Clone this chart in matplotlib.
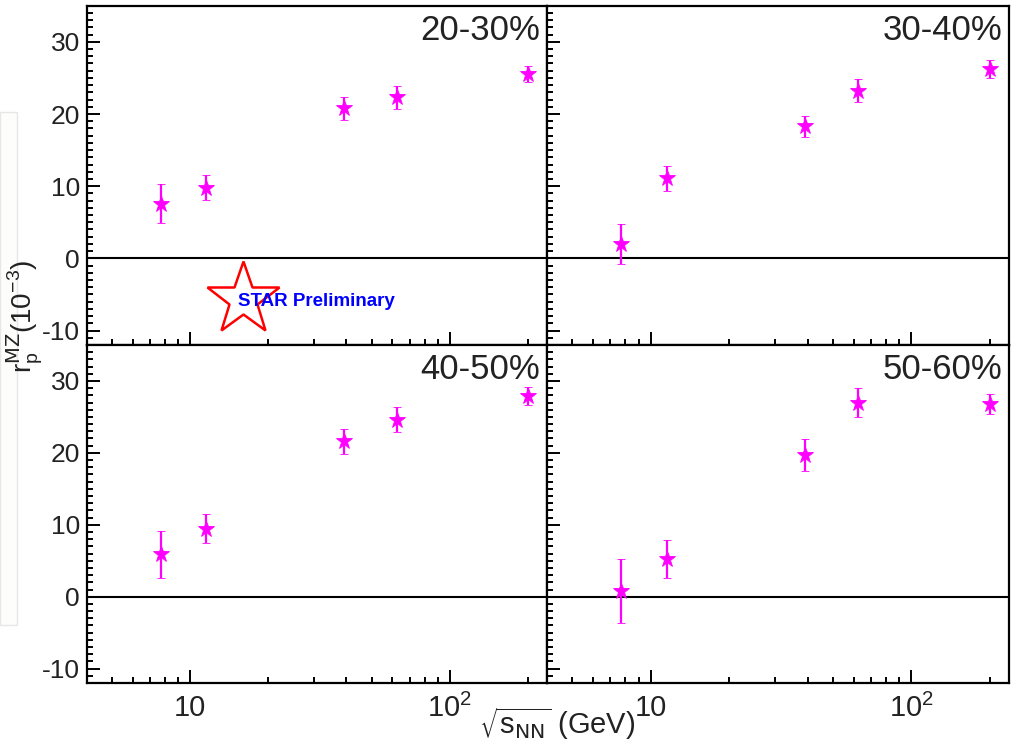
import numpy as np
import matplotlib
matplotlib.use('Agg')
from matplotlib import pyplot as plt
from matplotlib.ticker import FixedLocator, NullFormatter, MultipleLocator
from matplotlib.patches import Rectangle

plt.rcParams['font.family'] = ['Liberation Sans', 'DejaVu Sans']
plt.rcParams['mathtext.default'] = 'regular'

# beam energies (GeV)
energies = [7.7, 11.5, 39, 62.4, 200]

# values per centrality bin
centralities = ['20-30%', '30-40%', '40-50%', '50-60%']
v_2030 = [7.6, 9.8, 20.8, 22.3, 25.5]
e_2030 = [2.7, 1.75, 1.6, 1.6, 1.1]
v_3040 = [2.0, 11.1, 18.3, 23.2, 26.2]
e_3040 = [2.8, 1.75, 1.45, 1.6, 1.25]
v_4050 = [5.9, 9.45, 21.6, 24.6, 27.9]
e_4050 = [3.3, 2.0, 1.7, 1.75, 1.25]
v_5060 = [0.8, 5.3, 19.7, 27.0, 26.75]
e_5060 = [4.5, 2.65, 2.2, 2.05, 1.4]

values = [v_2030, v_3040, v_4050, v_5060]
errors = [e_2030, e_3040, e_4050, e_5060]

xticks = [10, 100]
xticklabels = ['10', '$10^{2}$']
yticks = [-10, 0, 10, 20, 30]

fig = plt.figure(figsize=(10.17, 7.44), dpi=100)

# pale box at the left edge (behind the y title)
fig.patches.append(Rectangle((0.0, 1 - 625 / 744), 17 / 1017, (625 - 112) / 744,
                             transform=fig.transFigure, facecolor='#fdfdfb',
                             edgecolor='#e6e6e6', lw=1.0, zorder=0))

left, mid, right = 0.0855, 0.5379, 0.9921
bot, midy, top = 0.0820, 0.5363, 0.9923
boxes = [
    [left, midy, mid - left, top - midy],
    [mid, midy, right - mid, top - midy],
    [left, bot, mid - left, midy - bot],
    [mid, bot, right - mid, midy - bot],
]

minor_x = [5, 6, 7, 8, 9, 20, 30, 40, 50, 60, 70, 80, 90, 200]

for i in range(4):
    ax = fig.add_axes(boxes[i])
    ax.set_xscale('log')
    ax.set_xlim(4.0, 237)
    ax.set_ylim(-12, 35)

    ax.axhline(0, color='black', lw=1.5, zorder=1)
    ax.errorbar(energies, values[i], yerr=errors[i], fmt='*', color='#ff00ff',
                ms=12, mew=0.6, elinewidth=1.6, capsize=3, capthick=1.6, zorder=3)

    ax.xaxis.set_major_locator(FixedLocator(xticks))
    ax.xaxis.set_minor_locator(FixedLocator(minor_x))
    ax.xaxis.set_minor_formatter(NullFormatter())
    ax.yaxis.set_major_locator(FixedLocator(yticks))
    ax.yaxis.set_minor_locator(MultipleLocator(1))

    ax.tick_params(which='both', direction='in', top=False, right=False,
                   width=1.4, color='black')
    ax.tick_params(which='major', length=9.5)
    ax.tick_params(which='minor', length=4.5)
    ax.tick_params(axis='y', labelsize=19, pad=5, labelcolor='#222222')
    ax.tick_params(axis='x', labelsize=21, pad=8, labelcolor='#222222')

    if i % 2 == 0:
        ax.set_yticklabels([str(t) for t in yticks])
    else:
        ax.set_yticklabels([])
    if i >= 2:
        ax.set_xticklabels(xticklabels)
    else:
        ax.set_xticklabels([])

    for s in ax.spines.values():
        s.set_linewidth(1.6)

    ax.text(0.985, 0.975, centralities[i], transform=ax.transAxes,
            ha='right', va='top', fontsize=25, color='#222222')

    if i == 0:
        ax.plot([0.34], [0.135], marker='*', ms=55, mfc='white', mec='red',
                mew=1.8, transform=ax.transAxes, zorder=4)
        ax.text(0.328, 0.128, 'STAR Preliminary', transform=ax.transAxes,
                ha='left', va='center', fontsize=13.5, fontweight='bold',
                color='blue', zorder=5)

fig.text(0.548, 0.028, r'$\sqrt{s_{\rm NN}}$ (GeV)', ha='center', va='center',
         fontsize=21, color='#222222')

fig.text(0.024, 0.575, r'$r_{p}^{\rm MZ}(10^{-3})$', rotation=90,
         ha='center', va='center', fontsize=20, color='#222222')

fig.savefig('out.png', dpi=100)
